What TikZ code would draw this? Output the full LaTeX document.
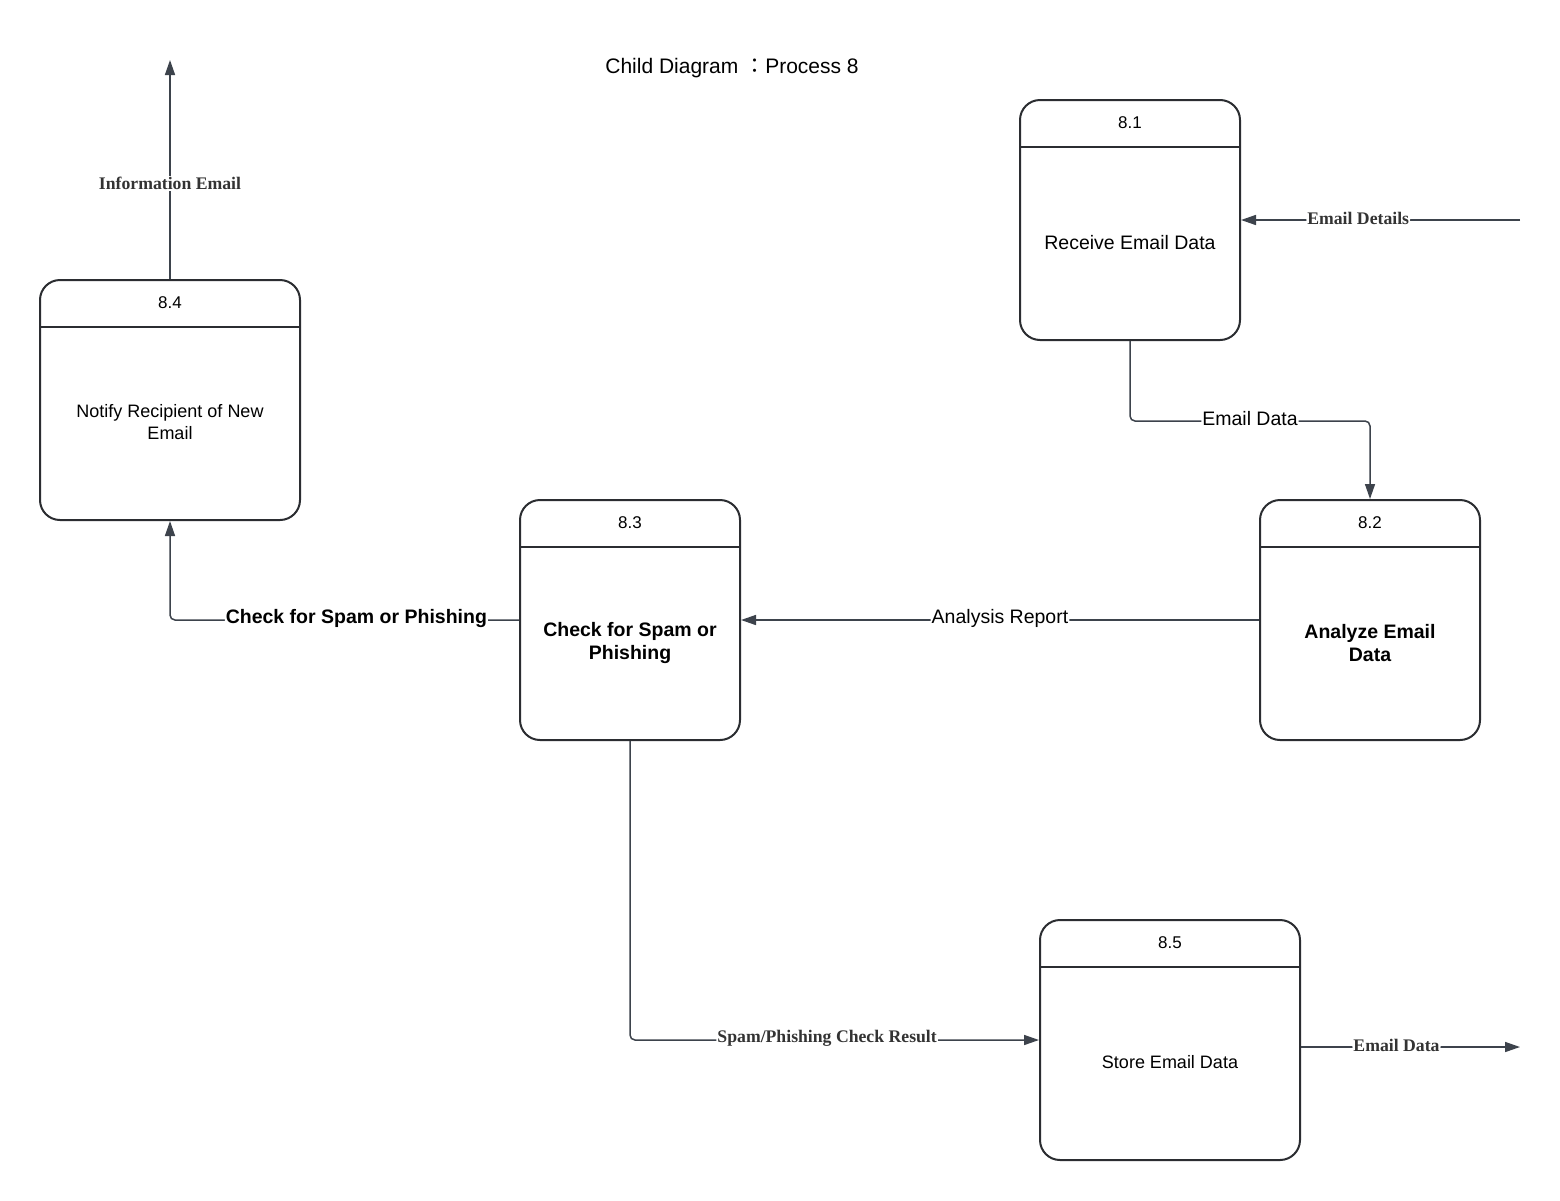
\documentclass[tikz,border=0pt]{standalone}
\usepackage{fontspec}
\setmainfont{Liberation Sans}
\newfontfamily\serifbold[BoldFont={Liberation Serif Bold}]{Liberation Serif}
\newfontfamily\cjk{Noto Sans CJK TC}
\usetikzlibrary{arrows.meta}
\definecolor{boxline}{HTML}{2B2D31}
\definecolor{flowline}{HTML}{3D434C}
\definecolor{labelgray}{HTML}{333333}
\begin{document}
\begin{tikzpicture}[x=1pt,y=-1pt,
  proc/.style={draw=boxline,line width=2pt,rounded corners=20pt,minimum height=240pt,inner sep=0pt},
  divider/.style={draw=boxline,line width=2pt},
  numtext/.style={font=\fontsize{17}{20}\selectfont,inner sep=0pt},
  bodytext/.style={font=\fontsize{18}{22}\selectfont,align=center,inner sep=0pt},
  flow/.style={draw=flowline,line width=1.5pt,rounded corners=5pt,-{Triangle[length=15pt,width=10pt]}},
  sanslbl/.style={fill=white,inner sep=1pt,text=black,font=\fontsize{19.5}{23}\selectfont},
  seriflbl/.style={fill=white,inner sep=1pt,text=labelgray,font=\serifbold\bfseries\fontsize{17.7}{21}\selectfont}
]
\useasboundingbox[fill=white] (0,0) rectangle (1560,1200);

% title
\node[font=\fontsize{21}{25}\selectfont,inner sep=0pt] (title) at (732,68)
  {Child Diagram {\cjk ：}Process 8};

% processes
\node[proc,minimum width=220pt] (b81) at (1130,220) {};
\node[proc,minimum width=260pt] (b84) at (170,400) {};
\node[proc,minimum width=220pt] (b83) at (630,620) {};
\node[proc,minimum width=220pt] (b82) at (1370,620) {};
\node[proc,minimum width=260pt] (b85) at (1170,1040) {};

\foreach \b/\n in {b81/8.1,b84/8.4,b83/8.3,b82/8.2,b85/8.5}{
  \node[numtext] (\b num) at ([yshift=-23.5pt]\b.north) {\n};
  \draw[divider] ([yshift=-48pt]\b.north west) -- ([yshift=-48pt]\b.north east);
}

\node[bodytext,font=\fontsize{19.5}{23}\selectfont] (t81) at ([yshift=-23pt]b81.center) {Receive Email Data};
\node[bodytext] (t84) at ([yshift=-22pt]b84.center) {Notify Recipient of New\\Email};
\node[bodytext,font=\bfseries\fontsize{19.5}{23}\selectfont] (t83) at ([yshift=-23pt]b83.center) {Check for Spam or\\Phishing};
\node[bodytext,font=\bfseries\fontsize{19.5}{23}\selectfont] (t82) at ([yshift=-23pt]b82.center) {Analyze Email\\Data};
\node[bodytext] (t85) at ([yshift=-22pt]b85.center) {Store Email Data};

% external ends
\coordinate (srcIn) at (1520,220);
\coordinate (sinkTop) at (170,60);
\coordinate (sinkOut) at (1520,1047);

% data flows
\draw[flow] (srcIn) -- node[seriflbl,pos=0.58,yshift=2pt] {Email Details} (b81.east);
\draw[flow] (b81.south) -- ++(0,80) -| node[sanslbl,pos=0.25,yshift=2.5pt] {Email Data} (b82.north);
\draw[flow] (b82.west) -- node[sanslbl,pos=0.5,yshift=2pt] {Analysis Report} (b83.east);
\draw[flow] (b83.west) -| node[sanslbl,pos=0.233,yshift=2pt,font=\bfseries\fontsize{19.5}{23}\selectfont] {Check for Spam or Phishing} (b84.south);
\draw[flow] (b84.north) -- node[seriflbl,pos=0.436] {Information Email} (sinkTop);
\draw[flow] (b83.south) |- node[seriflbl,pos=0.741,yshift=2pt] {Spam/Phishing Check Result} (b85.west);
\draw[flow] ([yshift=-7pt]b85.east) -- node[seriflbl,pos=0.436,yshift=2pt] {Email Data} (sinkOut);
\end{tikzpicture}
\end{document}
